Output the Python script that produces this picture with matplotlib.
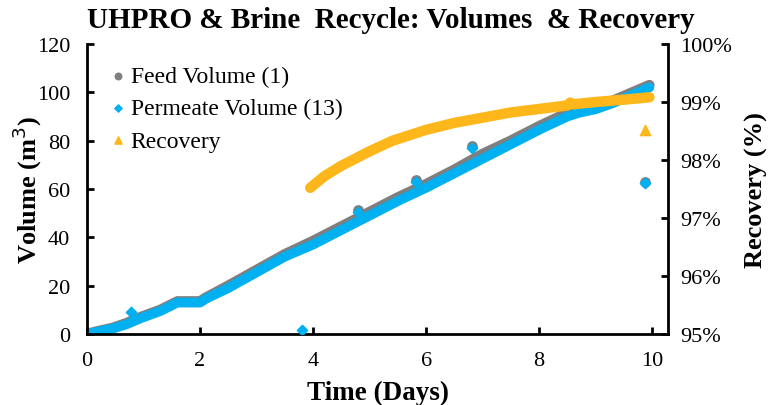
import matplotlib
matplotlib.use("Agg")
import matplotlib.pyplot as plt
from matplotlib.ticker import PercentFormatter

plt.rcParams['font.family'] = ['Liberation Serif', 'DejaVu Serif']

# Feed volume (m3) vs time (days)
feed_days = [0, 0.2, 0.45, 0.7, 0.95, 1.3, 1.6, 1.8, 2.0, 2.1, 2.5, 3.0, 3.5, 4.0,
             4.5, 5.0, 5.5, 6.0, 6.5, 7.0, 7.5, 8.0, 8.5, 8.7, 9.0, 9.3, 9.6, 9.95]
feed_vol = [0, 1.2, 2.5, 4.5, 7, 10, 13.5, 13.5, 13.5, 15, 20, 26.5, 33, 38.5,
            44.5, 50.5, 56.5, 62, 68, 74.5, 80, 86, 91.5, 92.5, 94, 96.5, 99.5, 103]
feed_odd_days = [4.8, 5.82, 6.81, 9.87]
feed_odd_vol = [51.5, 63.6, 77.7, 63]

# Permeate volume (m3)
perm_days = [0, 0.2, 0.45, 0.7, 0.95, 1.3, 1.6, 1.8, 2.0, 2.1, 2.5, 3.0, 3.5, 4.0,
             4.5, 5.0, 5.5, 6.0, 6.5, 7.0, 7.5, 8.0, 8.5, 8.7, 9.0, 9.3, 9.6, 9.95]
perm_vol = [0, 1.0, 2.2, 4.0, 6.5, 9.5, 13, 13, 13, 14.5, 19, 25.5, 32, 37,
            43, 49, 55, 60.5, 66.5, 72.5, 78.5, 84.5, 90, 91.5, 93, 95.5, 98.5, 102]
perm_odd_days = [0.78, 3.8, 4.8, 5.82, 6.81, 9.87]
perm_odd_vol = [9, 1.7, 50.5, 63, 77, 62.5]

# Recovery (fraction)
rec_days = [3.95, 4.2, 4.5, 5.0, 5.4, 6.0, 6.5, 7.0, 7.5, 8.0, 8.5, 8.55, 8.6, 9.0, 9.5, 9.95]
rec_val = [0.9752, 0.9772, 0.9790, 0.9815, 0.9833, 0.9852, 0.9864, 0.9873, 0.9882,
           0.9888, 0.9894, 0.9899, 0.9896, 0.9900, 0.9904, 0.9908]
rec_odd_days = [9.87]
rec_odd_val = [0.9852]

gray = '#7f7f7f'
blue = '#00b0f0'
orange = '#fdb71a'

fig = plt.figure(figsize=(7.69, 4.06), dpi=100)
ax = fig.add_axes([0.1131, 0.1749, 0.7556, 0.7143])
ax2 = ax.twinx()

# dense markers in the original look like thick bands
ax.plot(feed_days, feed_vol, color=gray, lw=7.5, solid_capstyle='round', solid_joinstyle='round')
ax.plot(perm_days, perm_vol, color=blue, lw=7, solid_capstyle='round', solid_joinstyle='round')
h1 = ax.scatter(feed_odd_days, feed_odd_vol, marker='o', s=45, color=gray, label='Feed Volume (1)', zorder=3)
h2 = ax.scatter(perm_odd_days, perm_odd_vol, marker='D', s=28, color=blue, label='Permeate Volume (13)', zorder=4)

ax2.plot(rec_days, rec_val, color=orange, lw=7.5, solid_capstyle='round', solid_joinstyle='round')
h3 = ax2.scatter(rec_odd_days, rec_odd_val, marker='^', s=55, color=orange, label='Recovery', zorder=3)

ax.set_xlim(0, 10.28)
ax.set_ylim(0, 120)
ax.set_xticks([0, 2, 4, 6, 8, 10])
ax.set_yticks(range(0, 121, 20))
ax2.set_ylim(0.95, 1.0)
ax2.set_yticks([0.95, 0.96, 0.97, 0.98, 0.99, 1.0])
ax2.yaxis.set_major_formatter(PercentFormatter(1.0, decimals=0))

for a in (ax, ax2):
    a.spines['top'].set_visible(False)
    for s in a.spines.values():
        s.set_linewidth(2)
ax.spines['right'].set_visible(False)
ax2.spines['left'].set_visible(False)
ax2.spines['bottom'].set_visible(False)

ax.tick_params(axis='both', direction='in', length=5, width=2, labelsize=16, pad=12)
ax2.tick_params(axis='y', direction='in', length=5, width=2, labelsize=16, pad=9)

ax.set_xlabel('Time (Days)', fontsize=19.5, fontweight='bold', labelpad=7)
ax.set_ylabel('Volume (m$^3$)', fontsize=19, fontweight='bold', va='center')
ax.yaxis.set_label_coords(-0.103, 0.5)
ax2.set_ylabel('Recovery (%)', fontsize=19, fontweight='bold', va='center', rotation=90)
ax2.yaxis.set_label_coords(1.153, 0.5)
ax.set_title('UHPRO & Brine  Recycle: Volumes  & Recovery', fontsize=21, fontweight='bold',
             pad=12, x=0.523)

ax2.legend(handles=[h1, h2, h3], loc='upper left', bbox_to_anchor=(0.0, 0.99),
           frameon=False, fontsize=17, markerscale=0.7, handlelength=1.0, handletextpad=0.05,
           labelspacing=0.45, borderaxespad=0.4)

fig.savefig('out.png', dpi=100)
